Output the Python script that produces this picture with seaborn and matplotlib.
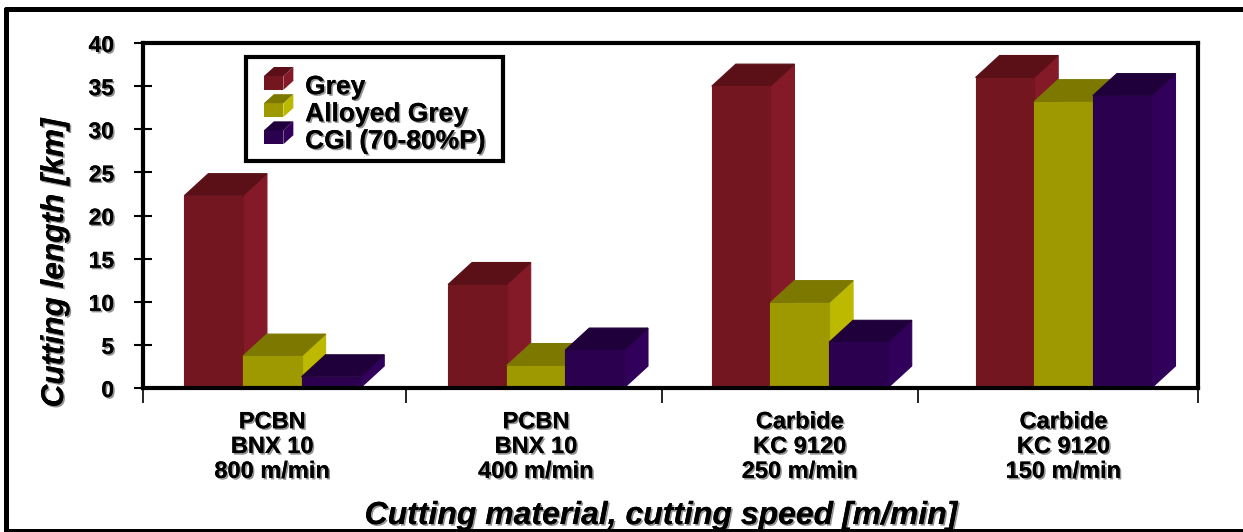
import pandas as pd
import seaborn as sns
import matplotlib.pyplot as plt
import matplotlib.patheffects as pe
from matplotlib.legend_handler import HandlerBase
from matplotlib.lines import Line2D
from matplotlib.patches import Patch, Polygon

# Values
categories = ['PCBN\nBNX 10\n800 m/min', 'PCBN\nBNX 10\n400 m/min',
              'Carbide\nKC 9120\n250 m/min', 'Carbide\nKC 9120\n150 m/min']
series_names = ['Grey', 'Alloyed Grey', 'CGI (70-80%P)']
grey = [22.3, 12.0, 35.0, 36.0]
alloyed = [3.7, 2.6, 9.9, 33.2]
cgi = [1.3, 4.4, 5.3, 33.9]
y_ticks = [0, 5, 10, 15, 20, 25, 30, 35, 40]
group_ticks = [-0.492, 0.508, 1.478, 2.448, 3.508]

front_colors = ['#74161F', '#9F9900', '#2A004F']
side_colors = ['#841A28', '#BDB800', '#31005A']
top_colors = ['#5B1018', '#7D7800', '#20003A']

df = pd.DataFrame({
    'category': categories * 3,
    'series': [s for s in series_names for _ in categories],
    'length': grey + alloyed + cgi,
})

sns.set_theme(style='white')
plt.rcParams['font.family'] = ['Liberation Sans', 'DejaVu Sans']
plt.rcParams['font.weight'] = 'bold'

fig = plt.figure(figsize=(12.43, 5.32), dpi=100)
ax = fig.add_axes([142.5 / 1243, 1 - 388 / 532, 1055 / 1243, 345 / 532])

sns.barplot(data=df, x='category', y='length', hue='series', hue_order=series_names,
            palette=front_colors, saturation=1, width=0.667, gap=0, legend=False,
            linewidth=0, ax=ax)

ax.set_xlim(group_ticks[0], group_ticks[-1])
ax.set_ylim(0, 40)

# Fake 3D depth, same offset on every bar
dx = 24 / 263.75
dy = 22 / 8.625
for i, container in enumerate(ax.containers):
    for bar in container:
        bar.set_zorder(3 + i * 0.3 + 0.2)
        bar.set_edgecolor(front_colors[i])
        bar.set_linewidth(0.8)
        x0 = bar.get_x()
        x1 = x0 + bar.get_width()
        h = bar.get_height()
        ax.add_patch(Polygon([(x1, 0), (x1 + dx, dy), (x1 + dx, h + dy), (x1, h)],
                             facecolor=side_colors[i], edgecolor=side_colors[i], linewidth=0.8,
                             zorder=3 + i * 0.3))
        ax.add_patch(Polygon([(x0, h), (x0 + dx, h + dy), (x1 + dx, h + dy), (x1, h)],
                             facecolor=top_colors[i], edgecolor=top_colors[i], linewidth=0.8,
                             zorder=3 + i * 0.3))

for spine in ax.spines.values():
    spine.set_visible(True)
    spine.set_color('black')
    spine.set_linewidth(3)
    spine.set_zorder(20)

shadow = [pe.withSimplePatchShadow(offset=(1.2, -1.2), shadow_rgbFace='#777777', alpha=0.8),
          pe.Normal()]

ax.set_yticks(y_ticks)
ax.set_xticks(range(4))
ax.set_xticklabels(categories, linespacing=1.1)
ax.set_xticks(group_ticks, minor=True)
ax.tick_params(axis='y', direction='inout', length=13, width=1.5, color='black',
               left=True, labelsize=16.5, pad=14, labelcolor='black')
ax.tick_params(axis='x', which='major', length=0, labelsize=17, pad=16, labelcolor='black')
ax.tick_params(axis='x', which='minor', direction='out', length=11, width=1.2, color='black',
               bottom=True)
for label in ax.get_xticklabels() + ax.get_yticklabels():
    label.set_path_effects(shadow)
    label.set_fontweight('bold')

ax.set_xlabel('Cutting material, cutting speed [m/min]', fontsize=23, fontweight='bold',
              fontstyle='italic', color='black', path_effects=shadow)
ax.set_ylabel('Cutting length [km]', fontsize=22.7, fontweight='bold', fontstyle='italic',
              color='black', path_effects=shadow)
ax.xaxis.set_label_coords((661 - 142.5) / 1055, (388 - 501) / 345)
ax.yaxis.set_label_coords((70 - 142.5) / 1055, (388 - 263) / 345)


class CubeHandler(HandlerBase):
    def create_artists(self, legend, orig, xd, yd, width, height, fontsize, trans):
        i = series_names.index(orig.get_label())
        w, h, ox, oy = 14, 10, 7.2, 6.5
        x, y = 7.2, 3
        front = Polygon([(x, y), (x + w, y), (x + w, y + h), (x, y + h)],
                        facecolor=front_colors[i], edgecolor='none', transform=trans)
        side = Polygon([(x + w, y), (x + w + ox, y + oy), (x + w + ox, y + h + oy), (x + w, y + h)],
                       facecolor=side_colors[i], edgecolor='none', transform=trans)
        top = Polygon([(x, y + h), (x + ox, y + h + oy), (x + w + ox, y + h + oy), (x + w, y + h)],
                      facecolor=top_colors[i], edgecolor='none', transform=trans)
        return [front, side, top]


handles = [Patch(label=name) for name in series_names]
leg = ax.legend(handles=handles, loc='upper left', mode='expand',
                bbox_to_anchor=((246 - 142.5) / 1055, (388 - 57) / 345, 257 / 1055, 0),
                handler_map={Patch: CubeHandler()}, fontsize=19, frameon=True, fancybox=False,
                edgecolor='black', facecolor='white', framealpha=1, borderaxespad=0,
                labelspacing=0.12, handlelength=1.6, handletextpad=0.34, borderpad=0.3,
                title=' ', title_fontsize=6)
leg.get_frame().set_linewidth(3)
leg.set_zorder(25)
for text in leg.get_texts():
    text.set_color('black')
    text.set_fontweight('bold')
    text.set_path_effects(shadow)

# Black outer frame of the slide
frame = dict(color='black', linewidth=3.6, transform=fig.transFigure)
fig.add_artist(Line2D([5.5 / 1243, 1], [1 - 8.5 / 532, 1 - 8.5 / 532], **frame))
fig.add_artist(Line2D([5.5 / 1243, 5.5 / 1243], [0, 1 - 8.5 / 532], **frame))
fig.add_artist(Line2D([5.5 / 1243, 1], [1 / 532, 1 / 532], **frame))

fig.savefig('out.png', dpi=100)
